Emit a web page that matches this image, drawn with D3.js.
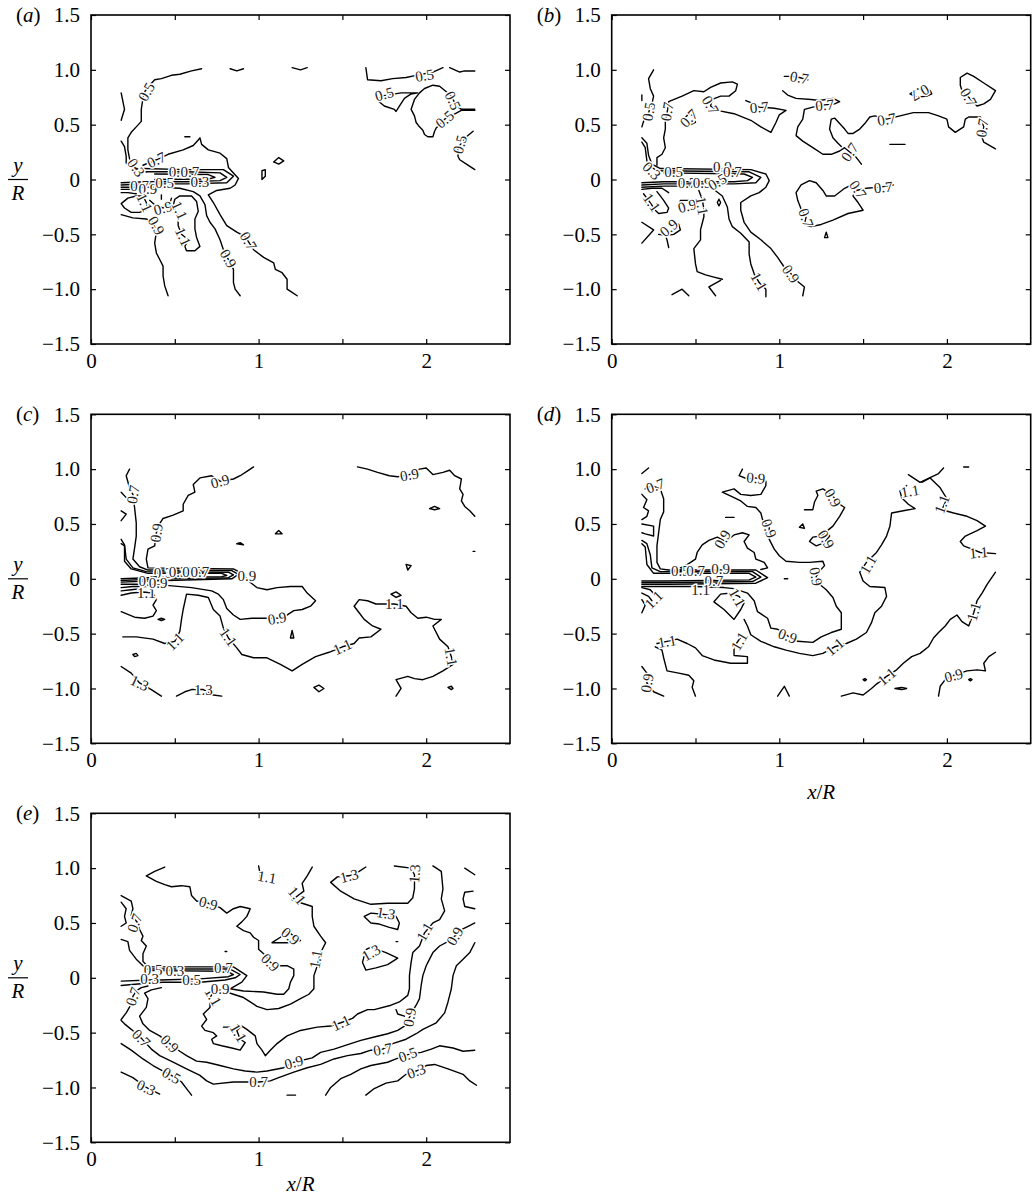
<!DOCTYPE html>
<html>
<head>
<meta charset="utf-8">
<script src="https://cdn.jsdelivr.net/npm/d3@7"></script>
<style>
  body { margin: 0; background: #fff; }
  .frame { fill: none; stroke: #000; stroke-width: 1.6px; }
  .contour { fill: none; stroke: #000; stroke-width: 1.4px; stroke-linejoin: round; stroke-linecap: round; }
  .clabel { font-family: "Liberation Serif", "Times New Roman", serif; font-size: 15px; fill: #222; stroke: #fff; stroke-width: 3px; paint-order: stroke; }
  .axis text, .big { font-family: "Liberation Serif", "Times New Roman", serif; font-size: 21px; fill: #000; }
  .axis line { stroke: #000; stroke-width: 1.2px; }
  .axis path { display: none; }
</style>
</head>
<body>
<script>
// Axis ticks
var xTickValues = [0, 0.5, 1, 1.5, 2];
var xTickLabels = [0, 1, 2];
var yTickValues = [-1.5, -1, -0.5, 0, 0.5, 1, 1.5];

// Contour lines: each line is a list of [x/R, y/R]
// Labels: [x/R, y/R, level, rotation]

// (a)
var aLines = [
  [[0.66,1.01],[0.60,0.99],[0.53,0.96],[0.48,0.95],[0.42,0.92],[0.38,0.91],[0.35,0.86],[0.32,0.80],[0.31,0.74],[0.30,0.64],[0.30,0.53],[0.27,0.48],[0.24,0.43],[0.22,0.38],[0.22,0.27],[0.23,0.19],[0.24,0.13],[0.27,0.10],[0.31,0.09]],
  [[0.18,0.79],[0.20,0.64],[0.18,0.54]],
  [[0.18,0.35],[0.20,0.30],[0.21,0.21],[0.21,0.15],[0.24,0.11],[0.28,0.08],[0.33,0.07]],
  [[0.83,1.01],[0.87,0.99],[0.91,1.01]],
  [[1.20,1.02],[1.25,1.0],[1.29,1.02]],
  [[1.64,1.02],[1.65,0.91],[1.73,0.90],[1.80,0.92],[1.88,0.93],[1.94,0.95],[2.04,0.98],[2.10,1.02]],
  [[2.14,1.02],[2.20,0.98],[2.23,0.99],[2.29,0.99]],
  [[1.95,0.79],[1.91,0.78],[1.87,0.74],[1.84,0.67],[1.82,0.62],[1.81,0.64],[1.75,0.67],[1.71,0.72],[1.73,0.76],[1.85,0.79],[1.95,0.79]],
  [[2.29,0.64],[2.21,0.64],[2.18,0.67],[2.15,0.76],[2.12,0.80],[2.08,0.85],[2.04,0.86],[1.99,0.83],[1.96,0.79],[1.93,0.73],[1.91,0.64],[1.92,0.61],[1.93,0.58],[1.94,0.52],[1.96,0.48],[1.98,0.45],[1.99,0.41],[2.01,0.39],[2.04,0.39],[2.05,0.44],[2.06,0.47],[2.11,0.55],[2.16,0.59],[2.21,0.63],[2.29,0.63]],
  [[2.28,0.44],[2.24,0.39],[2.22,0.35],[2.19,0.29],[2.19,0.21],[2.20,0.18],[2.24,0.14],[2.29,0.09]],
  [[1.09,0.16],[1.12,0.20],[1.15,0.17],[1.12,0.14],[1.09,0.16]],
  [[1.02,0.0],[1.02,0.08],[1.04,0.09],[1.04,0.03],[1.02,0.0]],
  [[0.56,0.39],[0.59,0.39]],
  [[0.25,0.17],[0.28,0.17]],
  [[0.42,-0.14],[0.42,-0.18]],
  [[0.31,0.13],[0.39,0.18],[0.46,0.23],[0.55,0.27],[0.61,0.31],[0.64,0.36],[0.65,0.38],[0.66,0.32],[0.70,0.27],[0.77,0.24],[0.81,0.19],[0.82,0.11],[0.85,0.06],[0.88,0.01],[0.86,-0.05],[0.83,-0.08],[0.75,-0.10],[0.70,-0.14],[0.73,-0.21],[0.77,-0.32],[0.81,-0.42],[0.87,-0.48],[0.92,-0.52],[0.97,-0.64],[1.03,-0.71],[1.09,-0.76],[1.10,-0.82],[1.14,-0.85],[1.17,-0.91],[1.17,-1.0],[1.20,-1.03],[1.23,-1.06]],
  [[0.31,0.10],[0.56,0.09],[0.79,0.09],[0.85,0.03],[0.81,-0.03],[0.57,-0.04],[0.33,-0.04],[0.18,-0.05]],
  [[0.33,0.07],[0.57,0.07],[0.77,0.06],[0.81,0.02],[0.77,-0.01],[0.57,-0.02],[0.33,-0.02],[0.18,-0.03]],
  [[0.38,0.05],[0.70,0.045],[0.74,0.02],[0.70,0.005],[0.38,0.0]],
  [[0.18,-0.07],[0.24,-0.07],[0.31,-0.07],[0.41,-0.07],[0.53,-0.08],[0.61,-0.11],[0.65,-0.15],[0.68,-0.23],[0.69,-0.33],[0.71,-0.39],[0.74,-0.45],[0.77,-0.55],[0.79,-0.64],[0.83,-0.76],[0.85,-0.82],[0.85,-0.94],[0.86,-1.0],[0.89,-1.06]],
  [[0.53,-0.15],[0.60,-0.15],[0.63,-0.20],[0.64,-0.29],[0.62,-0.36],[0.62,-0.45],[0.63,-0.53],[0.65,-0.61],[0.62,-0.65],[0.57,-0.65],[0.56,-0.61],[0.58,-0.55],[0.54,-0.50],[0.52,-0.42],[0.52,-0.33],[0.49,-0.24],[0.50,-0.18],[0.53,-0.15]],
  [[0.18,-0.22],[0.22,-0.17],[0.27,-0.15],[0.31,-0.15],[0.33,-0.21],[0.34,-0.27],[0.29,-0.30],[0.24,-0.30],[0.20,-0.26],[0.18,-0.22]],
  [[0.18,-0.32],[0.25,-0.35],[0.33,-0.36],[0.37,-0.39],[0.39,-0.48],[0.38,-0.58],[0.39,-0.67],[0.41,-0.73],[0.43,-0.79],[0.43,-0.88],[0.44,-0.97],[0.46,-1.06]],
  [[0.35,-0.19],[0.38,-0.23],[0.43,-0.26],[0.47,-0.22],[0.48,-0.17]],
  [[0.18,-0.09],[0.24,-0.09],[0.30,-0.10],[0.35,-0.12]],
  [[0.18,-0.12],[0.22,-0.12],[0.27,-0.13]]
];
var aLabels = [
  [0.33,0.80,"0.5",-60],[0.27,0.11,"0.3",55],[1.99,0.95,"0.5",-10],[1.75,0.78,"0.5",-15],
  [2.16,0.72,"0.5",65],[2.11,0.55,"0.5",-40],[2.20,0.32,"0.5",-75],[0.39,0.18,"0.7",-25],
  [0.94,-0.56,"0.7",60],[0.82,-0.72,"0.9",60],[0.52,0.07,"0.5",0],[0.59,0.07,"0.7",0],
  [0.65,-0.02,"0.3",0],[0.29,-0.06,"0.7",0],[0.34,-0.08,"0.9",0],[0.44,-0.03,"0.5",0],
  [0.32,-0.21,"1.1",65],[0.39,-0.42,"0.9",60],[0.43,-0.26,"0.9",-15],[0.53,-0.28,"1.1",65],[0.55,-0.52,"1.1",65]
];

// (b)
var bLines = [
  [[0.25,1.0],[0.22,0.92],[0.23,0.83],[0.25,0.76],[0.24,0.69],[0.22,0.61],[0.19,0.53],[0.18,0.48]],
  [[0.18,0.77],[0.18,0.72]],
  [[0.27,0.13],[0.27,0.20],[0.30,0.23],[0.32,0.29],[0.31,0.38],[0.32,0.46],[0.32,0.54],[0.33,0.60],[0.34,0.71],[0.42,0.76],[0.49,0.81],[0.55,0.80],[0.59,0.84],[0.65,0.88],[0.72,0.89],[0.75,0.87],[0.74,0.81],[0.70,0.76],[0.65,0.76],[0.60,0.73],[0.59,0.67],[0.63,0.63],[0.73,0.60],[0.83,0.54],[0.89,0.48],[0.95,0.43],[0.98,0.52],[1.0,0.59],[1.04,0.63],[0.97,0.65],[0.88,0.66],[0.83,0.70],[0.80,0.72]],
  [[0.43,0.55],[0.46,0.60],[0.49,0.58],[0.50,0.52],[0.47,0.50],[0.43,0.55]],
  [[1.03,0.94],[1.07,0.94],[1.12,0.93],[1.17,0.91]],
  [[1.02,0.81],[1.05,0.77],[1.10,0.74],[1.19,0.73],[1.24,0.72],[1.32,0.74],[1.36,0.71],[1.33,0.69],[1.27,0.68],[1.20,0.66],[1.15,0.64],[1.14,0.55],[1.11,0.48],[1.10,0.40],[1.14,0.35],[1.20,0.29],[1.26,0.23],[1.31,0.23],[1.36,0.26],[1.39,0.29],[1.42,0.25],[1.46,0.20],[1.49,0.14]],
  [[2.29,0.28],[2.22,0.34],[2.21,0.38],[2.22,0.48],[2.20,0.57],[2.18,0.57],[2.13,0.57],[2.11,0.55],[2.10,0.48],[2.05,0.43],[2.01,0.48],[2.0,0.55],[1.95,0.58],[1.89,0.61],[1.80,0.61],[1.72,0.58],[1.64,0.55],[1.57,0.58],[1.54,0.57],[1.51,0.51],[1.48,0.46],[1.44,0.42],[1.41,0.42],[1.39,0.46],[1.36,0.51],[1.33,0.56],[1.31,0.55],[1.30,0.46],[1.32,0.38],[1.35,0.33],[1.37,0.30]],
  [[1.78,0.78],[1.82,0.82],[1.87,0.84],[1.90,0.81],[1.91,0.78],[1.88,0.76],[1.82,0.75],[1.78,0.78]],
  [[2.12,0.97],[2.08,0.93],[2.08,0.86],[2.09,0.81],[2.13,0.75],[2.18,0.67],[2.22,0.69],[2.26,0.73],[2.29,0.81],[2.22,0.88],[2.16,0.94],[2.12,0.97]],
  [[1.66,0.32],[1.75,0.32]],
  [[1.27,-0.53],[1.28,-0.48],[1.29,-0.53],[1.27,-0.53]],
  [[1.68,-0.05],[1.60,-0.07],[1.52,-0.08],[1.46,-0.10],[1.44,-0.15],[1.47,-0.21],[1.50,-0.28],[1.41,-0.31],[1.32,-0.37],[1.25,-0.41],[1.19,-0.43],[1.15,-0.41],[1.16,-0.34],[1.13,-0.27],[1.11,-0.19],[1.10,-0.12],[1.13,-0.05],[1.18,-0.01],[1.22,-0.03],[1.26,-0.10],[1.28,-0.15],[1.33,-0.15],[1.39,-0.08],[1.43,-0.05],[1.46,-0.08]],
  [[0.18,0.38],[0.21,0.33],[0.22,0.22],[0.24,0.14],[0.29,0.10],[0.83,0.09],[0.92,0.05],[0.94,-0.01],[0.92,-0.07],[0.88,-0.12],[0.83,-0.15],[0.77,-0.21],[0.77,-0.28],[0.79,-0.39],[0.83,-0.48],[0.89,-0.55],[0.95,-0.63],[0.99,-0.71],[1.03,-0.80],[1.07,-0.86],[1.11,-0.93],[1.15,-0.98],[1.14,-1.06]],
  [[0.18,0.34],[0.20,0.29],[0.21,0.17],[0.22,0.13],[0.27,0.08],[0.82,0.07],[0.89,0.02],[0.86,-0.03],[0.73,-0.04],[0.31,-0.04],[0.18,-0.05]],
  [[0.31,0.06],[0.79,0.05],[0.84,0.02],[0.81,-0.01],[0.73,-0.02],[0.31,-0.02],[0.18,-0.03]],
  [[0.18,-0.07],[0.31,-0.06],[0.49,-0.06],[0.60,-0.08],[0.66,-0.15],[0.69,-0.25],[0.70,-0.36],[0.72,-0.43],[0.77,-0.49],[0.82,-0.57],[0.82,-0.68],[0.83,-0.77],[0.85,-0.86],[0.88,-0.94],[0.92,-1.0],[0.92,-1.07]],
  [[0.18,-0.09],[0.24,-0.08],[0.30,-0.08],[0.34,-0.12]],
  [[0.52,-0.10],[0.54,-0.18],[0.55,-0.27],[0.55,-0.34],[0.53,-0.46],[0.53,-0.55],[0.49,-0.63],[0.50,-0.77],[0.51,-0.84],[0.56,-0.87],[0.61,-0.89],[0.66,-0.91]],
  [[0.65,-0.92],[0.58,-0.98],[0.62,-1.06]],
  [[0.36,-1.05],[0.42,-1.0],[0.46,-1.06]],
  [[0.18,-0.39],[0.25,-0.46],[0.18,-0.58]],
  [[0.28,-0.50],[0.32,-0.51],[0.33,-0.55],[0.34,-0.62]],
  [[0.33,-0.51],[0.37,-0.50],[0.41,-0.46],[0.40,-0.41],[0.37,-0.39]],
  [[0.19,-0.13],[0.22,-0.19],[0.26,-0.28],[0.28,-0.31],[0.33,-0.30],[0.34,-0.26],[0.31,-0.19],[0.29,-0.15],[0.27,-0.11]],
  [[0.49,-0.19],[0.41,-0.19],[0.40,-0.25],[0.42,-0.29],[0.46,-0.28],[0.49,-0.25]],
  [[0.64,-0.18],[0.65,-0.21],[0.64,-0.24],[0.63,-0.21],[0.64,-0.18]]
];
var bLabels = [
  [0.22,0.62,"0.5",-80],[0.33,0.62,"0.7",-80],[0.46,0.56,"0.7",-45],[0.59,0.68,"0.7",60],
  [0.88,0.66,"0.7",-5],[1.12,0.93,"0.7",10],[1.27,0.68,"0.7",-5],[1.84,0.79,"0.7",150],
  [2.13,0.75,"0.7",60],[1.64,0.55,"0.7",-10],[2.21,0.47,"0.7",-80],[1.42,0.25,"0.7",-55],
  [1.62,-0.07,"0.7",-5],[1.16,-0.35,"0.7",70],[1.47,-0.09,"0.7",55],[1.07,-0.86,"0.9",55],
  [0.88,-0.93,"1.1",60],[0.24,-0.21,"1.1",55],[0.34,-0.44,"0.9",-40],[0.45,-0.24,"0.9",-15],
  [0.54,-0.24,"1.1",80],[0.24,0.08,"0.3",45],[0.37,0.07,"0.5",0],[0.66,0.12,"0.9",0],
  [0.72,0.07,"0.7",0],[0.45,-0.03,"0.7",0],[0.54,-0.03,"0.9",0],[0.63,-0.02,"0.5",-30]
];

// (c)
var cLines = [
  [[0.23,1.0],[0.21,0.94],[0.23,0.83],[0.25,0.77],[0.26,0.65],[0.27,0.51],[0.27,0.39],[0.26,0.28],[0.25,0.18],[0.29,0.11],[0.34,0.08],[0.84,0.075],[0.88,0.04],[0.84,0.0],[0.34,-0.02],[0.18,-0.03]],
  [[0.18,0.79],[0.21,0.74]],
  [[0.18,0.62],[0.21,0.59],[0.18,0.53]],
  [[0.97,1.02],[0.93,0.98],[0.89,0.94],[0.85,0.91],[0.77,0.89],[0.72,0.94],[0.65,0.92],[0.61,0.86],[0.62,0.79],[0.58,0.76],[0.55,0.68],[0.55,0.62],[0.49,0.58],[0.43,0.55],[0.40,0.48],[0.39,0.42],[0.38,0.30],[0.34,0.27],[0.33,0.18],[0.34,0.10],[0.85,0.09],[0.90,0.05],[0.94,-0.02],[0.99,-0.08],[1.05,-0.10],[1.11,-0.08],[1.19,-0.07],[1.26,-0.07],[1.29,-0.13],[1.34,-0.20],[1.31,-0.25],[1.26,-0.28],[1.21,-0.29],[1.16,-0.34],[1.11,-0.36],[1.03,-0.36],[0.96,-0.36],[0.89,-0.37],[0.85,-0.33],[0.81,-0.27],[0.79,-0.19],[0.76,-0.14],[0.72,-0.11],[0.60,-0.08],[0.45,-0.06],[0.33,-0.05],[0.18,-0.05]],
  [[0.18,0.36],[0.20,0.31],[0.21,0.18],[0.25,0.10],[0.33,0.065],[0.82,0.06],[0.85,0.035],[0.82,0.01],[0.33,-0.005],[0.18,-0.015]],
  [[0.18,0.32],[0.20,0.30],[0.20,0.16],[0.24,0.09],[0.34,0.05],[0.78,0.05],[0.81,0.03],[0.78,0.02],[0.34,0.01],[0.18,0.0]],
  [[1.59,1.02],[1.65,1.0],[1.71,0.97],[1.78,0.94],[1.83,0.93],[1.90,0.95],[1.96,1.0],[2.0,1.01],[2.04,0.95],[2.10,0.97],[2.14,0.99],[2.17,0.94],[2.21,0.91],[2.20,0.82],[2.22,0.77],[2.21,0.71],[2.23,0.66],[2.26,0.62],[2.29,0.57]],
  [[2.02,0.64],[2.05,0.66],[2.08,0.64],[2.05,0.63],[2.02,0.64]],
  [[1.10,0.41],[1.12,0.44],[1.14,0.41],[1.10,0.41]],
  [[0.87,0.32],[0.89,0.33],[0.91,0.31],[0.87,0.32]],
  [[1.88,0.13],[1.89,0.08],[1.91,0.12],[1.88,0.13]],
  [[2.28,0.25],[2.29,0.25]],
  [[1.19,-0.54],[1.20,-0.47],[1.21,-0.54],[1.19,-0.54]],
  [[1.33,-0.99],[1.36,-0.97],[1.39,-1.0],[1.36,-1.03],[1.33,-0.99]],
  [[2.13,-0.99],[2.15,-0.98],[2.16,-1.0],[2.15,-1.01],[2.13,-0.99]],
  [[0.25,-0.69],[0.27,-0.68],[0.28,-0.70],[0.26,-0.71],[0.25,-0.69]],
  [[0.40,-0.37],[0.42,-0.36],[0.44,-0.37],[0.42,-0.38],[0.40,-0.37]],
  [[1.79,-0.14],[1.82,-0.12],[1.85,-0.15],[1.82,-0.17],[1.79,-0.14]],
  [[0.19,-0.53],[0.27,-0.53],[0.37,-0.55],[0.44,-0.59],[0.50,-0.57],[0.53,-0.48],[0.54,-0.37],[0.55,-0.28],[0.57,-0.14],[0.64,-0.15],[0.70,-0.17],[0.73,-0.28],[0.77,-0.34],[0.79,-0.45],[0.82,-0.54],[0.87,-0.63],[0.90,-0.69],[0.97,-0.72],[1.05,-0.72],[1.13,-0.78],[1.20,-0.84],[1.26,-0.78],[1.34,-0.71],[1.42,-0.67],[1.50,-0.62],[1.57,-0.59],[1.60,-0.54],[1.67,-0.53],[1.73,-0.46],[1.68,-0.43],[1.63,-0.37],[1.60,-0.31],[1.57,-0.25],[1.60,-0.19],[1.65,-0.20],[1.70,-0.23],[1.81,-0.23],[1.88,-0.25],[1.91,-0.31],[1.95,-0.36],[2.0,-0.35],[2.05,-0.37],[2.09,-0.37],[2.04,-0.43],[2.08,-0.55],[2.13,-0.62],[2.15,-0.71],[2.16,-0.78],[2.10,-0.84],[2.04,-0.89],[1.98,-0.92],[1.93,-0.91],[1.89,-0.89],[1.82,-0.92],[1.85,-1.0],[1.82,-1.07]],
  [[0.18,-0.15],[0.24,-0.13],[0.31,-0.12],[0.37,-0.13],[0.39,-0.19],[0.37,-0.24],[0.39,-0.29],[0.37,-0.34],[0.32,-0.36],[0.26,-0.35],[0.18,-0.30]],
  [[0.18,-0.08],[0.25,-0.07],[0.33,-0.07]],
  [[0.18,-0.11],[0.24,-0.10],[0.30,-0.09]],
  [[0.18,-0.80],[0.24,-0.86],[0.29,-0.95],[0.36,-1.01],[0.42,-1.07]],
  [[0.51,-1.07],[0.56,-1.03],[0.60,-1.01],[0.67,-1.01],[0.73,-1.06],[0.78,-1.07]]
];
var cLabels = [
  [0.25,0.77,"0.7",-80],[0.77,0.89,"0.9",-15],[0.39,0.42,"0.9",-80],[1.90,0.95,"0.9",-10],
  [0.93,0.03,"0.9",0],[1.11,-0.36,"0.9",-10],[0.50,-0.57,"1.1",-45],[0.82,-0.53,"1.1",55],
  [1.50,-0.62,"1.1",-25],[1.81,-0.23,"1.1",0],[2.15,-0.71,"1.1",80],[0.33,-0.13,"1.1",0],
  [0.29,-0.95,"1.3",25],[0.67,-1.01,"1.3",0],[0.43,0.055,"0.3",0],[0.52,0.06,"0.3",0],
  [0.60,0.065,"0.5",0],[0.65,0.065,"0.7",0],[0.34,-0.02,"0.7",0],[0.40,-0.035,"0.9",0]
];

// (d)
var dLines = [
  [[0.22,1.01],[0.18,0.96]],
  [[0.20,0.82],[0.24,0.85],[0.29,0.82],[0.31,0.73],[0.31,0.61],[0.29,0.54],[0.28,0.42],[0.27,0.30],[0.27,0.15],[0.29,0.09],[0.34,0.08],[0.86,0.08],[0.93,0.01],[0.86,-0.04],[0.34,-0.05],[0.18,-0.05]],
  [[0.18,0.77],[0.21,0.72],[0.19,0.65],[0.22,0.62],[0.21,0.57],[0.18,0.54]],
  [[0.18,0.50],[0.25,0.48],[0.25,0.39],[0.20,0.41],[0.18,0.42]],
  [[0.18,0.35],[0.21,0.32],[0.23,0.22],[0.24,0.10],[0.29,0.065],[0.84,0.065],[0.89,0.015],[0.84,-0.025],[0.33,-0.035],[0.18,-0.035]],
  [[0.18,0.32],[0.20,0.29],[0.21,0.13],[0.25,0.05],[0.33,0.05],[0.82,0.05],[0.86,0.015],[0.82,-0.01],[0.33,-0.02],[0.18,-0.02]],
  [[0.78,1.0],[0.76,0.94],[0.81,0.91],[0.86,0.92],[0.92,0.89],[0.92,0.85],[0.89,0.77],[0.83,0.76],[0.77,0.77],[0.73,0.82],[0.66,0.79],[0.73,0.74],[0.77,0.71],[0.81,0.66],[0.86,0.65],[0.89,0.60],[0.90,0.54],[0.94,0.47],[0.94,0.36],[0.97,0.27],[1.0,0.21],[1.04,0.16],[1.12,0.15],[1.18,0.15],[1.26,0.16],[1.27,0.12],[1.24,0.07],[1.22,0.02],[1.24,-0.05],[1.28,-0.10],[1.32,-0.17],[1.34,-0.25],[1.37,-0.31],[1.37,-0.46],[1.31,-0.49],[1.25,-0.53],[1.20,-0.58],[1.11,-0.57],[1.05,-0.52],[0.99,-0.46],[0.95,-0.45],[0.93,-0.36],[0.87,-0.30],[0.85,-0.20],[0.81,-0.13],[0.73,-0.09],[0.67,-0.08],[0.50,-0.07],[0.33,-0.07],[0.18,-0.07]],
  [[0.41,0.10],[0.45,0.13],[0.50,0.18],[0.51,0.24],[0.54,0.31],[0.58,0.35],[0.63,0.38],[0.68,0.34],[0.73,0.40],[0.78,0.42],[0.82,0.40],[0.79,0.34],[0.81,0.28],[0.85,0.24],[0.86,0.18],[0.91,0.15],[0.93,0.10],[0.89,0.085]],
  [[1.15,0.63],[1.20,0.63],[1.21,0.70],[1.23,0.76],[1.22,0.80],[1.26,0.82],[1.31,0.77],[1.36,0.68],[1.39,0.65],[1.36,0.57],[1.32,0.48],[1.28,0.43],[1.30,0.39],[1.27,0.33],[1.22,0.30],[1.18,0.34],[1.20,0.38],[1.25,0.39],[1.27,0.42]],
  [[1.12,0.47],[1.14,0.50],[1.15,0.46],[1.12,0.47]],
  [[0.68,0.56],[0.73,0.56]],
  [[1.03,0.0],[1.05,0.0]],
  [[1.77,0.95],[1.84,0.88],[1.95,0.96],[1.98,1.01]],
  [[1.85,0.88],[1.90,0.92],[1.96,0.83],[2.0,0.73],[1.97,0.63],[2.04,0.60],[2.12,0.57],[2.18,0.53],[2.23,0.48],[2.18,0.44],[2.11,0.39],[2.08,0.34],[2.10,0.30],[2.15,0.27],[2.20,0.24],[2.29,0.23]],
  [[2.10,1.02],[2.13,1.02]],
  [[1.76,0.85],[1.72,0.80],[1.73,0.74],[1.77,0.68],[1.81,0.64],[1.74,0.62],[1.67,0.60],[1.66,0.48],[1.64,0.39],[1.61,0.31],[1.58,0.24],[1.52,0.15],[1.48,0.06],[1.50,-0.02],[1.54,-0.07],[1.63,-0.08],[1.64,-0.16],[1.61,-0.25],[1.57,-0.31],[1.55,-0.40],[1.52,-0.49],[1.46,-0.55],[1.40,-0.59],[1.33,-0.62],[1.26,-0.68],[1.20,-0.70],[1.12,-0.68],[1.04,-0.65],[0.97,-0.62],[0.89,-0.57],[0.83,-0.51],[0.81,-0.43],[0.79,-0.37]],
  [[0.61,-0.21],[0.67,-0.28],[0.73,-0.37],[0.77,-0.28],[0.79,-0.22],[0.76,-0.16],[0.71,-0.13],[0.65,-0.14],[0.61,-0.21]],
  [[0.27,-0.59],[0.33,-0.57],[0.39,-0.55],[0.45,-0.59],[0.50,-0.63],[0.54,-0.70],[0.61,-0.74],[0.71,-0.77],[0.81,-0.77],[0.81,-0.71],[0.73,-0.70],[0.73,-0.62],[0.78,-0.51]],
  [[0.26,-0.62],[0.30,-0.65],[0.31,-0.72],[0.33,-0.84],[0.40,-0.86],[0.46,-0.88],[0.49,-0.93],[0.48,-0.99],[0.50,-1.07]],
  [[0.18,-0.80],[0.21,-0.86],[0.21,-0.95],[0.25,-1.03],[0.31,-1.07]],
  [[0.99,-1.07],[1.03,-0.98],[1.06,-1.07]],
  [[1.37,-1.07],[1.44,-1.04],[1.50,-1.06],[1.55,-1.0],[1.58,-0.96],[1.64,-0.89],[1.70,-0.83],[1.74,-0.77],[1.79,-0.71],[1.84,-0.68],[1.89,-0.62],[1.92,-0.54],[1.95,-0.49],[1.99,-0.43],[2.02,-0.37],[2.06,-0.33],[2.09,-0.39],[2.13,-0.43],[2.16,-0.31],[2.18,-0.20],[2.21,-0.13],[2.24,-0.05],[2.29,0.06]],
  [[1.95,-1.07],[1.96,-0.98],[1.99,-0.92],[2.04,-0.88],[2.12,-0.84],[2.18,-0.83],[2.23,-0.84],[2.22,-0.77],[2.25,-0.71],[2.29,-0.67]],
  [[1.50,-0.92],[1.51,-0.91],[1.52,-0.92],[1.51,-0.93],[1.50,-0.92]],
  [[1.69,-1.0],[1.73,-0.99],[1.76,-1.0],[1.73,-1.01],[1.69,-1.0]],
  [[2.13,-0.92],[2.14,-0.91],[2.15,-0.92],[2.14,-0.93],[2.13,-0.92]],
  [[0.18,-0.08],[0.23,-0.10],[0.26,-0.15]],
  [[0.18,-0.13],[0.22,-0.16],[0.24,-0.20]],
  [[0.18,-0.19],[0.20,-0.24],[0.18,-0.31]],
  [[0.41,0.07],[0.43,0.12],[0.48,0.12],[0.49,0.05]]
];
var dLabels = [
  [0.26,0.85,"0.7",-20],[0.86,0.92,"0.9",5],[0.94,0.46,"0.9",70],[1.22,0.02,"0.9",80],
  [1.05,-0.52,"0.9",20],[0.66,0.36,"0.9",-60],[1.32,0.74,"0.9",60],[1.28,0.36,"0.9",60],
  [2.19,0.24,"1.1",-5],[1.97,0.68,"1.1",-70],[1.78,0.80,"1.1",-10],[1.53,0.13,"1.1",-60],
  [1.33,-0.62,"1.1",-40],[0.75,-0.17,"1.1",60],[0.33,-0.57,"1.1",-10],[0.76,-0.57,"1.1",-60],
  [0.21,-0.95,"0.9",-80],[1.64,-0.89,"1.1",-40],[2.16,-0.30,"1.1",-75],[2.04,-0.88,"0.9",-15],
  [0.65,0.09,"0.9",0],[0.41,0.07,"0.5",0],[0.50,0.07,"0.7",0],[0.61,-0.02,"0.7",0],
  [0.53,-0.10,"1.1",0],[0.25,-0.19,"1.1",-45]
];

// (e)
var eLines = [
  [[0.44,1.01],[0.38,0.97],[0.33,0.93],[0.39,0.88],[0.44,0.85],[0.48,0.83],[0.54,0.84],[0.59,0.83],[0.60,0.75],[0.63,0.70],[0.70,0.68],[0.77,0.64],[0.81,0.59],[0.85,0.63],[0.89,0.65],[0.95,0.63],[0.93,0.56],[0.90,0.51],[0.87,0.47],[0.91,0.43],[0.95,0.41],[0.97,0.37],[1.0,0.34],[1.0,0.26],[1.03,0.22],[1.07,0.14],[1.13,0.11],[1.17,0.11],[1.21,0.08],[1.21,0.02],[1.19,-0.04],[1.18,-0.10],[1.15,-0.15],[1.11,-0.15],[1.03,-0.13],[0.91,-0.12],[0.83,-0.10]],
  [[1.08,0.32],[1.13,0.37],[1.17,0.43],[1.21,0.38],[1.25,0.34],[1.17,0.32],[1.08,0.32]],
  [[0.80,0.24],[0.81,0.24]],
  [[1.32,1.01],[1.29,0.93],[1.26,0.86],[1.27,0.79],[1.20,0.71],[1.26,0.68],[1.32,0.65],[1.32,0.56],[1.33,0.47],[1.37,0.38],[1.40,0.32],[1.37,0.23],[1.35,0.11],[1.33,0.02],[1.33,-0.10],[1.30,-0.15],[1.25,-0.19],[1.19,-0.24],[1.12,-0.28],[1.05,-0.29],[0.99,-0.26],[0.95,-0.22],[0.91,-0.18],[0.85,-0.15],[0.81,-0.13]],
  [[1.0,1.02],[1.01,0.94],[1.01,0.88]],
  [[1.64,1.01],[1.60,0.97],[1.54,0.93],[1.47,0.92],[1.43,0.87],[1.49,0.79],[1.57,0.72],[1.67,0.67],[1.77,0.68],[1.89,0.68],[1.92,0.73],[1.93,0.81],[1.93,0.94],[1.91,1.0],[1.81,1.02]],
  [[1.63,0.56],[1.67,0.59],[1.74,0.58],[1.82,0.56],[1.84,0.50],[1.83,0.44],[1.78,0.46],[1.72,0.49],[1.67,0.50],[1.63,0.56]],
  [[1.63,0.25],[1.67,0.28],[1.76,0.23],[1.83,0.18],[1.77,0.12],[1.70,0.09],[1.64,0.07],[1.62,0.14],[1.63,0.20],[1.63,0.25]],
  [[1.82,0.33],[1.83,0.33]],
  [[2.04,1.02],[2.09,0.97],[2.10,0.81],[2.09,0.72],[2.11,0.61],[2.08,0.53],[2.04,0.50],[1.99,0.41],[1.96,0.29],[1.92,0.23],[1.91,0.14],[1.90,0.02],[1.90,-0.10],[1.89,-0.16],[1.84,-0.22],[1.79,-0.25],[1.69,-0.29],[1.65,-0.29],[1.59,-0.33],[1.56,-0.37],[1.49,-0.41],[1.43,-0.44],[1.35,-0.45],[1.25,-0.48],[1.17,-0.53],[1.11,-0.60],[1.07,-0.66],[1.04,-0.71],[1.02,-0.66],[0.99,-0.60],[0.98,-0.53],[0.93,-0.47],[0.90,-0.44],[0.87,-0.48],[0.89,-0.56],[0.92,-0.59],[0.89,-0.66],[0.84,-0.64],[0.78,-0.62],[0.73,-0.60],[0.72,-0.56],[0.75,-0.53],[0.73,-0.50],[0.68,-0.48],[0.66,-0.44],[0.69,-0.38],[0.67,-0.33],[0.71,-0.27],[0.71,-0.18],[0.73,-0.13],[0.77,-0.11]],
  [[0.79,-0.45],[0.83,-0.45]],
  [[2.29,0.50],[2.25,0.47],[2.21,0.44],[2.17,0.38],[2.14,0.34],[2.08,0.29],[2.04,0.23],[2.02,0.17],[2.0,0.11],[1.98,0.02],[1.97,-0.07],[1.96,-0.19],[1.94,-0.25],[1.92,-0.30],[1.90,-0.36],[1.87,-0.44],[1.83,-0.48],[1.77,-0.51],[1.69,-0.54],[1.61,-0.57],[1.55,-0.60],[1.45,-0.65],[1.37,-0.68],[1.32,-0.73],[1.21,-0.77],[1.15,-0.82],[1.05,-0.85],[0.99,-0.86],[0.92,-0.85],[0.85,-0.83],[0.77,-0.80],[0.69,-0.77],[0.63,-0.76],[0.57,-0.71],[0.53,-0.67],[0.47,-0.60],[0.41,-0.53],[0.35,-0.48],[0.31,-0.42],[0.29,-0.35],[0.33,-0.27],[0.34,-0.19],[0.32,-0.14],[0.36,-0.11],[0.42,-0.09]],
  [[1.82,-0.29],[1.83,-0.33],[1.87,-0.35]],
  [[2.29,0.32],[2.26,0.23],[2.22,0.17],[2.18,0.11],[2.16,0.02],[2.15,-0.10],[2.13,-0.22],[2.11,-0.32],[2.06,-0.41],[1.98,-0.47],[1.94,-0.51],[1.88,-0.56],[1.80,-0.60],[1.74,-0.65],[1.67,-0.66],[1.61,-0.69],[1.53,-0.71],[1.45,-0.74],[1.37,-0.79],[1.29,-0.82],[1.21,-0.86],[1.12,-0.91],[1.07,-0.94],[1.0,-0.95],[0.93,-0.95],[0.85,-0.95],[0.73,-0.97],[0.69,-0.94],[0.65,-0.89],[0.57,-0.83],[0.49,-0.77],[0.41,-0.71],[0.36,-0.65],[0.30,-0.55],[0.24,-0.47],[0.20,-0.42],[0.18,-0.39]],
  [[2.29,-0.66],[2.22,-0.67],[2.16,-0.64],[2.08,-0.62],[2.03,-0.65],[1.97,-0.68],[1.89,-0.70],[1.82,-0.74],[1.77,-0.77],[1.67,-0.80],[1.61,-0.83],[1.55,-0.88],[1.49,-0.92],[1.43,-1.0],[1.40,-1.07]],
  [[0.18,-0.60],[0.24,-0.66],[0.31,-0.74],[0.37,-0.80],[0.43,-0.85],[0.48,-0.89],[0.54,-0.95],[0.57,-1.01],[0.60,-1.07]],
  [[0.18,-0.86],[0.25,-0.91],[0.33,-1.0],[0.41,-1.06]],
  [[1.64,-1.07],[1.69,-1.01],[1.76,-0.96],[1.83,-0.94],[1.88,-0.88],[1.94,-0.85],[2.0,-0.80],[2.05,-0.79],[2.13,-0.83],[2.22,-0.88],[2.26,-0.94],[2.30,-0.98]],
  [[1.17,-1.07],[1.22,-1.07]],
  [[2.23,1.0],[2.29,0.94]],
  [[2.28,0.79],[2.23,0.78],[2.22,0.72],[2.23,0.65],[2.29,0.63]],
  [[0.18,0.75],[0.24,0.70],[0.25,0.63],[0.24,0.57],[0.28,0.50],[0.29,0.44],[0.31,0.38],[0.30,0.34],[0.33,0.29],[0.31,0.22],[0.31,0.15],[0.34,0.10],[0.85,0.10],[0.93,0.02],[0.90,-0.04],[0.83,-0.10]],
  [[0.18,0.69],[0.21,0.63],[0.20,0.56],[0.21,0.50],[0.18,0.47]],
  [[0.18,0.35],[0.22,0.33],[0.23,0.25],[0.27,0.17],[0.33,0.08],[0.83,0.08],[0.89,0.03],[0.86,0.0],[0.80,-0.02],[0.65,-0.04],[0.43,-0.04],[0.33,-0.05],[0.18,-0.07]],
  [[0.35,0.065],[0.81,0.06],[0.85,0.03],[0.82,0.01],[0.65,-0.01],[0.41,-0.02],[0.35,-0.02],[0.18,-0.03]],
  [[0.18,-0.38],[0.21,-0.32],[0.24,-0.24],[0.25,-0.17],[0.27,-0.12],[0.30,-0.09],[0.34,-0.075]]
];
var eLabels = [
  [0.70,0.68,"0.9",15],[1.07,0.14,"0.9",45],[1.19,0.38,"0.9",40],[1.23,0.75,"1.1",50],
  [1.34,0.17,"1.1",-80],[1.05,0.92,"1.1",10],[1.54,0.93,"1.3",-15],[1.93,0.95,"1.3",-85],
  [1.76,0.59,"1.3",10],[1.67,0.23,"1.3",-30],[1.99,0.42,"1.1",-60],[1.49,-0.41,"1.1",-25],
  [0.73,-0.17,"1.1",60],[0.88,-0.50,"1.1",60],[2.17,0.38,"0.9",-60],[1.90,-0.36,"0.9",-80],
  [1.21,-0.77,"0.9",-15],[0.47,-0.60,"0.9",45],[1.74,-0.65,"0.7",-10],[1.0,-0.95,"0.7",0],
  [0.30,-0.55,"0.7",45],[1.89,-0.70,"0.5",-20],[0.48,-0.89,"0.5",30],[0.33,-1.0,"0.3",25],
  [1.94,-0.85,"0.3",-20],[0.26,0.50,"0.7",-70],[0.25,-0.17,"0.7",-70],[0.37,0.07,"0.5",0],
  [0.50,0.06,"0.3",0],[0.79,0.09,"0.7",0],[0.35,-0.01,"0.3",0],[0.60,-0.02,"0.5",0],[0.77,-0.10,"0.9",0]
];

// Page and panel layout
var width = 1032,
    height = 1201,
    plotW = 419,
    plotH = 329;

var panels = [
  { key: "a", lines: aLines, labels: aLabels, left: 91,    top: 15,    yTitle: true,  xTitle: 0 },
  { key: "b", lines: bLines, labels: bLabels, left: 611.7, top: 15,    yTitle: false, xTitle: 0 },
  { key: "c", lines: cLines, labels: cLabels, left: 91,    top: 414.3, yTitle: true,  xTitle: 0 },
  { key: "d", lines: dLines, labels: dLabels, left: 611.7, top: 414.3, yTitle: false, xTitle: 56 },
  { key: "e", lines: eLines, labels: eLabels, left: 91,    top: 813.3, yTitle: true,  xTitle: 49 }
];

var svg = d3.select("body")
    .append("svg")
    .attr("width", width)
    .attr("height", height);

var x = d3.scaleLinear().domain([0, 2.5]).range([0, plotW]);
var y = d3.scaleLinear().domain([-1.5, 1.5]).range([plotH, 0]);

var line = d3.line()
    .x(function (d) { return x(d[0]); })
    .y(function (d) { return y(d[1]); });

function yFormat(d) {
    return d === 0 ? "0" : d3.format(".1f")(d);
}

panels.forEach(drawPanel);

function drawPanel(p) {
    var g = svg.append("g")
        .attr("transform", "translate(" + p.left + "," + p.top + ")");

    // contour lines
    g.selectAll("path.contour")
        .data(p.lines)
        .join("path")
        .attr("class", "contour")
        .attr("d", line);

    // inline contour labels (white halo breaks the line like clabel)
    g.selectAll("text.clabel")
        .data(p.labels)
        .join("text")
        .attr("class", "clabel")
        .attr("text-anchor", "middle")
        .attr("dy", "0.35em")
        .attr("transform", function (d) {
            return "translate(" + x(d[0]) + "," + y(d[1]) + ") rotate(" + d[3] + ")";
        })
        .text(function (d) { return d[2]; });

    addAxes(g);

    g.append("rect")
        .attr("class", "frame")
        .attr("width", plotW)
        .attr("height", plotH);

    // panel tag (a), (b) ...
    var tag = g.append("text")
        .attr("class", "big")
        .attr("x", -75)
        .attr("y", 7);
    tag.append("tspan").text("(");
    tag.append("tspan").attr("font-style", "italic").text(p.key);
    tag.append("tspan").text(")");

    if (p.yTitle) addYTitle(g);
    if (p.xTitle) addXTitle(g, p.xTitle);
}

function addAxes(g) {
    // bottom with labels at the integers only
    g.append("g")
        .attr("class", "axis")
        .attr("transform", "translate(0," + plotH + ")")
        .call(d3.axisBottom(x)
            .tickValues(xTickValues)
            .tickSizeInner(-5)
            .tickSizeOuter(0)
            .tickPadding(9)
            .tickFormat(function (d) { return xTickLabels.indexOf(d) >= 0 ? d : ""; }));

    g.append("g")
        .attr("class", "axis")
        .call(d3.axisTop(x).tickValues(xTickValues).tickSizeInner(-5).tickSizeOuter(0).tickFormat(""));

    g.append("g")
        .attr("class", "axis")
        .call(d3.axisLeft(y)
            .tickValues(yTickValues)
            .tickSizeInner(-5)
            .tickSizeOuter(0)
            .tickPadding(11)
            .tickFormat(yFormat));

    g.append("g")
        .attr("class", "axis")
        .attr("transform", "translate(" + plotW + ",0)")
        .call(d3.axisRight(y).tickValues(yTickValues).tickSizeInner(-5).tickSizeOuter(0).tickFormat(""));

    g.selectAll(".axis")
        .attr("font-size", null)
        .attr("font-family", null);
}

function addYTitle(g) {
    var cy = y(0);
    g.append("text").attr("class", "big")
        .attr("x", -73).attr("y", cy - 8)
        .attr("text-anchor", "middle")
        .attr("font-style", "italic")
        .text("y");
    g.append("line")
        .attr("x1", -83).attr("x2", -63)
        .attr("y1", cy).attr("y2", cy)
        .attr("stroke", "#000").attr("stroke-width", 1.2);
    g.append("text").attr("class", "big")
        .attr("x", -73).attr("y", cy + 20)
        .attr("text-anchor", "middle")
        .attr("font-style", "italic")
        .text("R");
}

function addXTitle(g, offset) {
    var t = g.append("text").attr("class", "big")
        .attr("x", plotW / 2)
        .attr("y", plotH + offset)
        .attr("text-anchor", "middle");
    t.append("tspan").attr("font-style", "italic").text("x");
    t.append("tspan").text("/");
    t.append("tspan").attr("font-style", "italic").text("R");
}
</script>
</body>
</html>
